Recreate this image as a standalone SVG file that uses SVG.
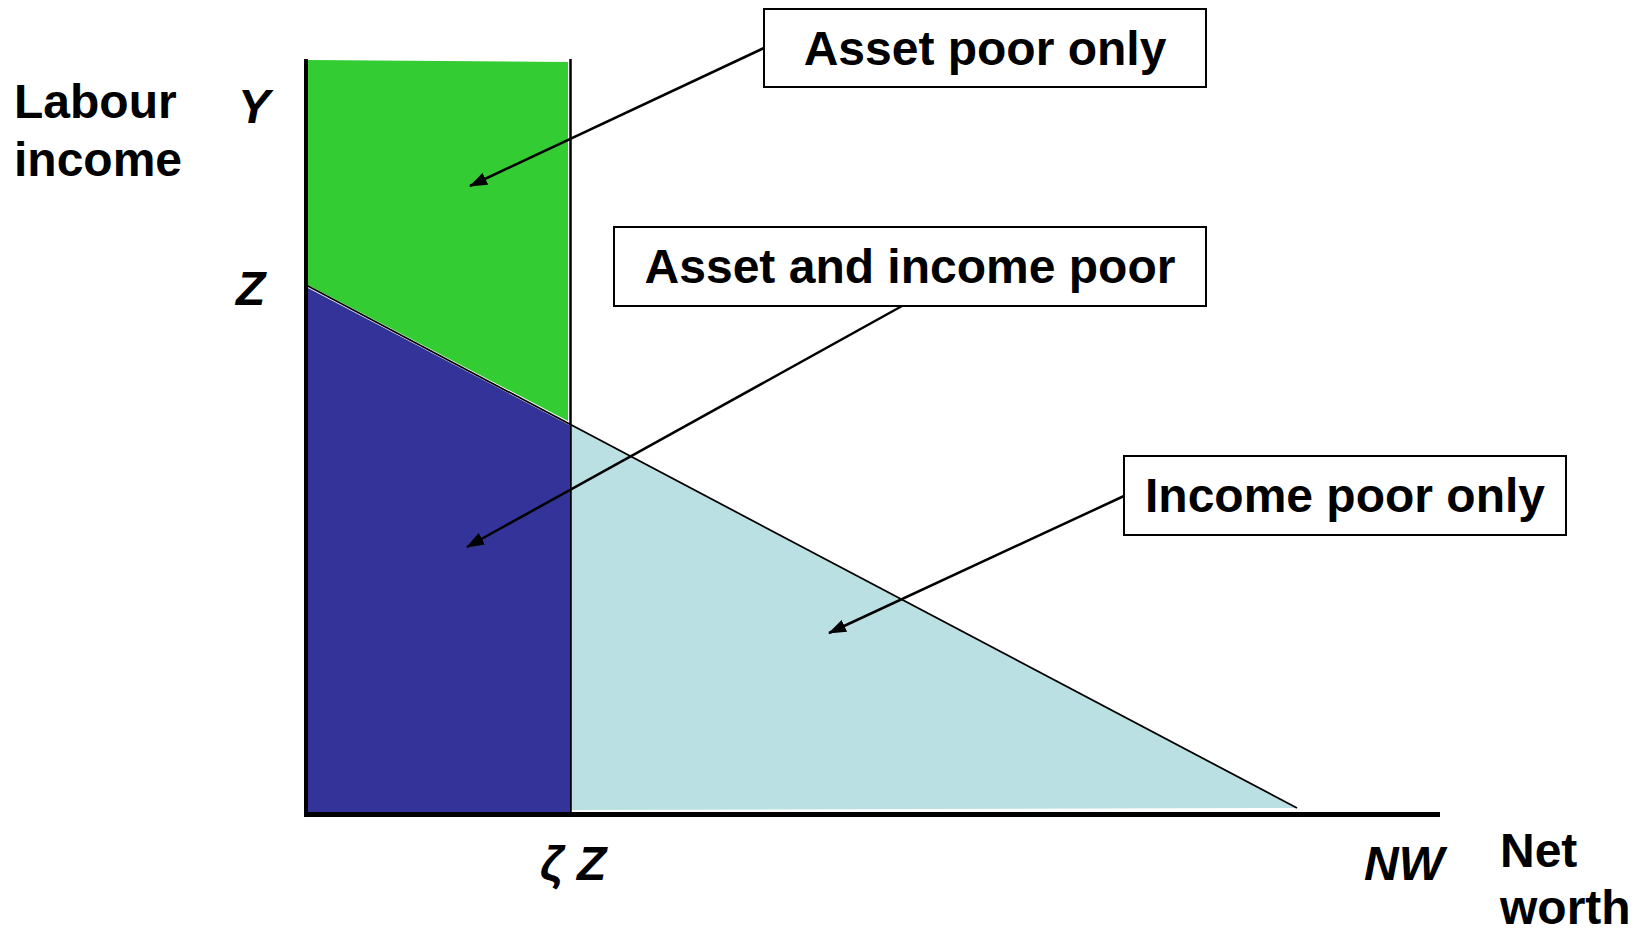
<svg xmlns="http://www.w3.org/2000/svg" width="1644" height="931" viewBox="0 0 1644 931">
<style>
.t{font-family:"Liberation Sans",Arial,sans-serif;font-weight:bold;font-size:48px;fill:#000}
.i{font-style:italic}
.box{fill:#fff;stroke:#000;stroke-width:2}
.conn{stroke:#000;stroke-width:2.5;fill:none;marker-end:url(#ah)}
.ax{stroke:#000;fill:none}
</style>
<defs>
<marker id="ah" markerWidth="18" markerHeight="13" refX="17" refY="6.5" orient="auto" markerUnits="userSpaceOnUse" viewBox="0 0 18 13">
<path d="M0,0 L18,6.5 L0,13 z" fill="#000"/>
</marker>
</defs>
<rect width="1644" height="931" fill="#fff"/>
<g id="regions">
<polygon points="308,60 568,62 568,421 308,285" fill="#33CC33"/>
<polygon points="308,288 569,425 569,815 308,815" fill="#333399"/>
<polygon points="571,426 1296,808 571,810" fill="#BBE0E3"/>
</g>
<g id="axes">
<line class="ax" x1="306" y1="59" x2="306" y2="816" stroke-width="4"/>
<line class="ax" x1="570.5" y1="59" x2="570.5" y2="815" stroke-width="2.5"/>
<line class="ax" x1="304" y1="814.5" x2="1440" y2="814.5" stroke-width="5"/>
<line class="ax" x1="306" y1="285" x2="1297" y2="808" stroke-width="1.8"/>
</g>
<g id="axis-labels">
<text class="t" x="14" y="118">Labour</text>
<text class="t" x="14" y="176">income</text>
<text class="t i" x="238" y="123">Y</text>
<text class="t i" x="236" y="305">Z</text>
<text class="t i" x="540" y="880">ζ Z</text>
<text class="t i" x="1364" y="880">NW</text>
<text class="t" x="1500" y="867">Net</text>
<text class="t" x="1500" y="924">worth</text>
</g>
<g id="node-asset-poor-only">
<rect class="box" x="764" y="9" width="442" height="78"/>
<text class="t" x="985" y="65" text-anchor="middle">Asset poor only</text>
</g>
<g id="node-asset-and-income-poor">
<rect class="box" x="614" y="227" width="592" height="79"/>
<text class="t" x="910" y="283" text-anchor="middle">Asset and income poor</text>
</g>
<g id="node-income-poor-only">
<rect class="box" x="1124" y="456" width="442" height="79"/>
<text class="t" x="1345" y="512" text-anchor="middle">Income poor only</text>
</g>
<g id="connectors">
<line class="conn" x1="764" y1="48" x2="470" y2="186"/>
<line class="conn" x1="902" y1="306" x2="467" y2="547"/>
<line class="conn" x1="1124" y1="496" x2="829" y2="633"/>
</g>
</svg>
